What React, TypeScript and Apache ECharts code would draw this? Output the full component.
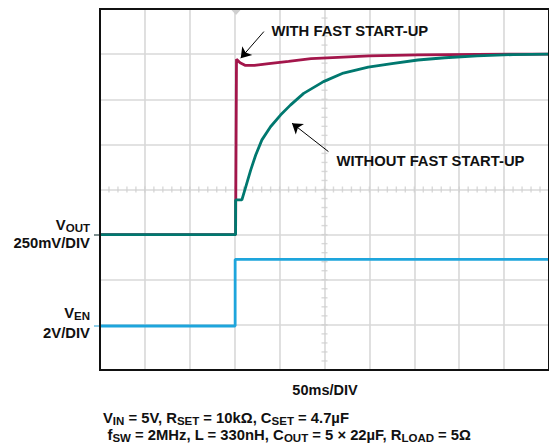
import React, { useEffect, useRef } from "react";
import * as echarts from "echarts";

// Time axis (ms) and vertical divisions
const timeTicksMs = [0, 50, 100, 150, 200, 250, 300, 350, 400, 450, 500];
const divTicks = [0, 1, 2, 3, 4, 5, 6, 7, 8];

// WITH FAST START-UP (VOUT, in divisions)
const redT = [0, 151, 152, 156, 162, 172, 188, 210, 235, 265, 300, 354, 420, 500];
const redV = [3.0, 3.0, 6.885, 6.81, 6.75, 6.75, 6.79, 6.84, 6.9, 6.93, 6.96, 6.985, 6.995, 7.0];

// WITHOUT FAST START-UP (VOUT, in divisions)
const tealT = [0, 151, 151, 158, 162.3, 167.8, 173.3, 180.3, 189.9, 201, 212, 226.8, 248.9, 271, 298.7, 325, 354, 384, 420, 460, 500];
const tealV = [3.0, 3.0, 3.77, 3.77, 4.06, 4.43, 4.76, 5.1, 5.39, 5.65, 5.87, 6.13, 6.39, 6.58, 6.71, 6.79, 6.87, 6.92, 6.96, 6.99, 7.0];

// VEN (in divisions)
const enT = [0, 150.5, 150.5, 500];
const enV = [0.975, 0.975, 2.45, 2.45];

// Annotation arrows [tailT, tailV, headT, headV]
const arrowWith = [182.5, 7.5, 156.7, 6.91];
const arrowWithout = [254.4, 4.84, 213.8, 5.47];

const FONT = "'Liberation Sans', Arial, sans-serif";
const zip = (a: number[], b: number[]) => a.map((v, i) => [v, b[i]]);

const main = (size: number) => ({ fontSize: size, fontWeight: "bold", fontFamily: FONT, fill: "#111", lineHeight: 18 });
const sub = (size: number) => ({ fontSize: size, fontWeight: "bold", fontFamily: FONT, fill: "#111", lineHeight: 9, verticalAlign: "bottom" });

export default function App() {
  const ref = useRef<HTMLDivElement>(null);
  useEffect(() => {
    const chart = echarts.init(ref.current!, null, { renderer: "svg" });
    const minorStepT = 10;
    const minorStepV = 0.2;
    const hTicks: number[][] = [];
    for (let t = timeTicksMs[0]; t <= timeTicksMs[timeTicksMs.length - 1] + 1e-6; t += minorStepT) hTicks.push([t, 4]);
    const vTicks: number[][] = [];
    for (let k = 0; k <= 40; k++) vTicks.push([250, +(k * minorStepV).toFixed(2)]);

    const rich = { m: main(14.8), s: sub(11.5) };
    chart.setOption({
      animation: false,
      backgroundColor: "#fff",
      grid: { left: 100, top: 9, width: 452, height: 361, show: true, borderColor: "#111", borderWidth: 2, backgroundColor: "transparent", z: 5 },
      xAxis: {
        type: "value", min: timeTicksMs[0], max: timeTicksMs[timeTicksMs.length - 1], interval: 50,
        axisLine: { show: false }, axisTick: { show: false }, axisLabel: { show: false },
        splitLine: { show: true, lineStyle: { color: "#d8d8d8", width: 1.6 } },
      },
      yAxis: {
        type: "value", min: divTicks[0], max: divTicks[divTicks.length - 1], interval: 1,
        axisLine: { show: false }, axisTick: { show: false }, axisLabel: { show: false },
        splitLine: { show: true, lineStyle: { color: "#d8d8d8", width: 1.6 } },
      },
      series: [
        { type: "scatter", data: hTicks, symbol: "rect", symbolSize: [1.4, 6], itemStyle: { color: "#d0d0d0" }, silent: true, z: 1 },
        { type: "scatter", data: vTicks, symbol: "rect", symbolSize: [6, 1.4], itemStyle: { color: "#d0d0d0" }, silent: true, z: 1 },
        { type: "line", data: zip(redT, redV), showSymbol: false, lineStyle: { color: "#a3164b", width: 2.8 }, z: 3 },
        { type: "line", data: zip(tealT, tealV), showSymbol: false, lineStyle: { color: "#00786f", width: 2.8 }, z: 4 },
        {
          type: "line", data: zip(enT, enV), showSymbol: false, lineStyle: { color: "#1ea5dc", width: 2.8 }, z: 4,
          markLine: {
            silent: true, symbol: ["none", "arrow"], symbolSize: 10,
            label: { show: false },
            lineStyle: { color: "#000", width: 1, type: "solid" },
            data: [
              [{ coord: [arrowWith[0], arrowWith[1]] }, { coord: [arrowWith[2], arrowWith[3]] }],
              [{ coord: [arrowWithout[0], arrowWithout[1]] }, { coord: [arrowWithout[2], arrowWithout[3]] }],
            ],
          },
        },
      ],
      graphic: [
        { type: "polygon", shape: { points: [[231.5, 10], [240.5, 10], [236, 15]] }, style: { fill: "#cfcfcf" }, z: 10 },
        { type: "line", shape: { x1: 94, y1: 235, x2: 100, y2: 235 }, style: { stroke: "#7d8f8f", lineWidth: 2 } },
        { type: "line", shape: { x1: 94, y1: 326, x2: 100, y2: 326 }, style: { stroke: "#8fd0ea", lineWidth: 2 } },
        { type: "text", x: 271.5, y: 31, style: { text: "WITH FAST START-UP", font: `bold 14.8px ${FONT}`, fill: "#111", verticalAlign: "middle" }, z: 20 },
        { type: "text", x: 336.5, y: 161, style: { text: "WITHOUT FAST START-UP", font: `bold 14.8px ${FONT}`, fill: "#111", verticalAlign: "middle" }, z: 20 },
        { type: "text", x: 90, y: 225, style: { text: "{m|V}{s|OUT}", rich, align: "right", verticalAlign: "middle" } },
        { type: "text", x: 90, y: 243, style: { text: "250mV/DIV", font: `bold 14.8px ${FONT}`, fill: "#111", align: "right", verticalAlign: "middle" } },
        { type: "text", x: 90, y: 313, style: { text: "{m|V}{s|EN}", rich, align: "right", verticalAlign: "middle" } },
        { type: "text", x: 90, y: 333, style: { text: "2V/DIV", font: `bold 14.8px ${FONT}`, fill: "#111", align: "right", verticalAlign: "middle" } },
        { type: "text", x: 325, y: 390, style: { text: "50ms/DIV", font: `bold 14.5px ${FONT}`, fill: "#111", align: "center", verticalAlign: "middle" } },
        { type: "text", x: 103, y: 418, style: { text: "{m|V}{s|IN}{m| = 5V, R}{s|SET}{m| = 10kΩ, C}{s|SET}{m| = 4.7µF}", rich, verticalAlign: "middle" } },
        { type: "text", x: 107.5, y: 435, style: { text: "{m|f}{s|SW}{m| = 2MHz, L = 330nH, C}{s|OUT}{m| = 5 × 22µF, R}{s|LOAD}{m| = 5Ω}", rich, verticalAlign: "middle" } },
      ],
    });
    return () => chart.dispose();
  }, []);
  return <div ref={ref} style={{ position: "fixed", left: 0, top: 0, width: 549, height: 448, background: "#fff" }} />;
}
